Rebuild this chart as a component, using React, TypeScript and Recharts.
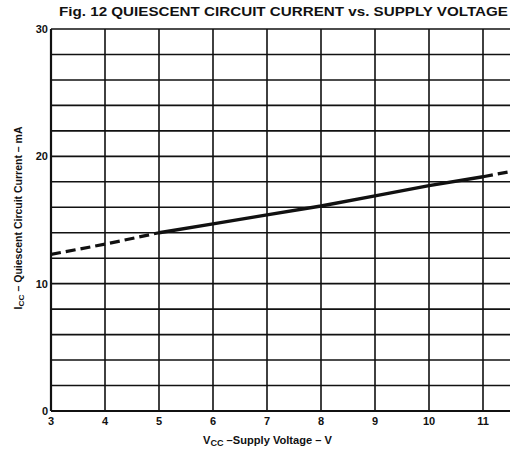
import React from 'react';
import { LineChart, Line, XAxis, YAxis, CartesianGrid } from 'recharts';

const voltages = [3, 4, 5, 6, 7, 8, 9, 10, 11, 11.5];
const currentMA = [12.3, 13.1, 14.0, 14.7, 15.4, 16.1, 16.9, 17.7, 18.4, 18.8];
const xTicks = [3, 4, 5, 6, 7, 8, 9, 10, 11];
const yTicks = [0, 2, 4, 6, 8, 10, 12, 14, 16, 18, 20, 22, 24, 26, 28, 30];
const yLabelTicks = [0, 10, 20, 30];
const solidFrom = 5;
const solidTo = 11;

const data = voltages.map((v, i) => ({
  v,
  low: v <= solidFrom ? currentMA[i] : null,
  mid: v >= solidFrom && v <= solidTo ? currentMA[i] : null,
  high: v >= solidTo ? currentMA[i] : null,
}));

const FONT = '"Liberation Sans", Arial, Helvetica, sans-serif';
const INK = '#111';

export default function App() {
  return (
    <div style={{ position: 'absolute', left: 0, top: 0, width: 510, height: 460, background: '#fff' }}>
      <LineChart
        width={510}
        height={460}
        data={data}
        margin={{ top: 29, right: 0, left: 0, bottom: 19 }}
      >
        <CartesianGrid
          stroke={INK}
          strokeWidth={1.6}
          horizontalValues={yTicks}
          verticalValues={xTicks}
        />
        <XAxis
          dataKey="v"
          type="number"
          domain={[3, 11.5]}
          ticks={xTicks}
          allowDataOverflow
          height={30}
          axisLine={{ stroke: INK, strokeWidth: 2 }}
          tickLine={false}
          tick={{ fill: INK, fontSize: 11, fontWeight: 700, fontFamily: FONT }}
          tickMargin={0}
        />
        <YAxis
          type="number"
          domain={[0, 30]}
          ticks={yTicks}
          interval={0}
          width={51}
          axisLine={{ stroke: INK, strokeWidth: 2.2 }}
          tickLine={false}
          tickFormatter={(t: number) => (yLabelTicks.includes(t) ? String(t) : '')}
          tick={{ fill: INK, fontSize: 11, fontWeight: 700, fontFamily: FONT }}
          tickMargin={-3}
        />
        <Line dataKey="low" stroke={INK} strokeWidth={3.2} strokeDasharray="10 5" dot={false} isAnimationActive={false} connectNulls={false} />
        <Line dataKey="mid" stroke={INK} strokeWidth={3.4} dot={false} isAnimationActive={false} connectNulls={false} />
        <Line dataKey="high" stroke={INK} strokeWidth={3.2} strokeDasharray="10 5" dot={false} isAnimationActive={false} connectNulls={false} />
      </LineChart>
      <svg width={510} height={460} style={{ position: 'absolute', left: 0, top: 0, pointerEvents: 'none' }}>
        <text x={59} y={16} fontFamily={FONT} fontWeight={700} fontSize={13} fill={INK} textLength={449} lengthAdjust="spacingAndGlyphs">
          Fig. 12  QUIESCENT CIRCUIT CURRENT vs. SUPPLY VOLTAGE
        </text>
        <text
          transform="translate(22,218) rotate(-90)"
          textAnchor="middle"
          fontFamily={FONT}
          fontWeight={700}
          fontSize={10}
          fill={INK}
          textLength={183}
          lengthAdjust="spacingAndGlyphs"
        >
          I<tspan fontSize={8} dy={2}>CC</tspan><tspan dy={-2}> – Quiescent  Circuit  Current – mA</tspan>
        </text>
        <text x={203} y={444} fontFamily={FONT} fontWeight={700} fontSize={11} fill={INK} textLength={129} lengthAdjust="spacingAndGlyphs">
          V<tspan fontSize={9} dy={2}>CC</tspan><tspan dy={-2}> –Supply  Voltage – V</tspan>
        </text>
      </svg>
    </div>
  );
}
